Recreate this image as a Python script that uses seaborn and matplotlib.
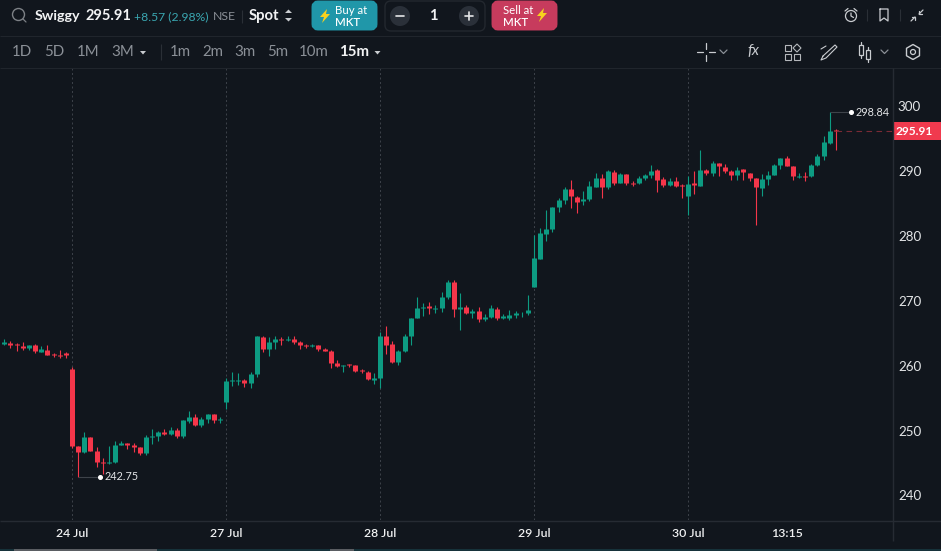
import numpy as np
import pandas as pd
import matplotlib
matplotlib.use('Agg')
import matplotlib.pyplot as plt
from matplotlib.patches import FancyBboxPatch, Circle, Rectangle, Polygon
import seaborn as sns

# ============================
# DADOS (15m, um candle por posição; 24 Jul = posição 0)
# ============================
candle_idx = list(range(-12, 125))

opens = [264.87, 263.33, 263.49, 263.28, 263.08, 262.72, 263.18, 262.10, 262.41, 261.74, 261.69, 261.95,
         259.48, 247.62, 246.69, 249.00, 246.85, 245.15, 245.00, 245.15, 247.77, 248.08, 247.77, 247.46, 246.54,
         249.00, 249.16, 249.77, 249.47, 250.08, 249.16, 251.47, 252.09, 250.85, 251.78, 252.55, 251.57,
         254.40, 257.63, 257.63, 257.78, 257.32, 258.71, 264.41, 262.56, 263.64, 264.10, 263.94, 264.10, 263.64,
         263.12, 263.02, 263.17, 262.56, 262.25, 260.40, 259.99, 260.25, 260.09, 259.27, 259.01, 257.78,
         258.09, 264.56, 263.33, 260.56, 262.25, 264.56, 267.34, 268.88, 269.18, 268.72, 268.88, 270.57, 272.88,
         268.72, 269.03, 268.11, 268.41, 267.18, 267.49, 268.72, 267.34, 267.34, 267.80, 268.06, 268.11,
         272.11, 276.43, 280.28, 281.05, 284.44, 285.52, 287.21, 285.98, 285.36, 285.67, 287.52, 288.91, 287.52,
         289.83, 288.14, 289.52, 288.14, 288.14, 288.91, 289.37, 290.13, 288.75, 287.82, 288.44, 287.82,
         286.13, 288.13, 287.67, 290.13, 289.67, 291.21, 290.60, 289.98, 289.36, 290.29, 289.67, 288.90, 287.36,
         288.75, 289.36, 290.91, 291.98, 290.75, 289.11, 289.21, 289.21, 290.91, 292.29, 294.29, 296.30]

highs = [265.08, 264.10, 263.80, 263.49, 263.64, 263.18, 263.33, 263.02, 263.18, 261.95, 262.41, 262.10,
         259.74, 247.62, 249.77, 249.00, 247.46, 245.77, 247.62, 248.39, 248.39, 248.08, 248.08, 247.46, 249.31,
         250.24, 249.93, 250.24, 250.54, 250.39, 251.62, 253.01, 252.55, 252.09, 252.55, 252.55, 252.09,
         258.09, 259.01, 258.86, 257.94, 259.01, 264.56, 264.56, 264.41, 264.56, 264.41, 264.56, 264.56, 263.79,
         263.33, 263.33, 263.17, 262.71, 262.41, 260.87, 260.09, 260.25, 260.09, 259.48, 259.17, 258.86,
         265.18, 266.10, 263.79, 262.41, 264.87, 267.34, 270.57, 269.65, 269.80, 269.34, 271.34, 273.19, 273.19,
         271.19, 269.34, 268.72, 269.03, 267.95, 269.34, 269.03, 267.95, 268.57, 268.41, 268.26, 270.88,
         280.12, 281.20, 283.98, 284.44, 285.83, 287.52, 288.60, 286.13, 286.90, 288.44, 289.68, 289.52, 290.14,
         290.14, 289.68, 289.52, 288.44, 289.21, 289.52, 290.91, 290.29, 289.06, 288.90, 289.06, 287.98,
         289.21, 289.98, 293.22, 290.29, 291.52, 291.21, 291.06, 290.13, 290.60, 290.29, 289.67, 288.90, 289.52,
         289.98, 291.06, 291.98, 292.29, 290.75, 289.67, 289.83, 291.06, 292.60, 295.37, 299.07, 296.45]

lows = [263.33, 263.18, 262.72, 262.25, 262.41, 262.41, 261.95, 262.10, 261.64, 261.33, 261.18, 261.18,
        247.26, 242.89, 246.54, 246.85, 244.38, 243.30, 244.84, 245.00, 247.77, 247.15, 246.69, 246.23, 246.23,
        247.92, 248.39, 249.31, 249.31, 248.85, 248.85, 251.16, 250.70, 250.54, 251.16, 251.16, 251.16,
        253.32, 256.86, 257.01, 256.70, 256.55, 258.24, 262.10, 261.48, 262.56, 263.17, 263.79, 263.33, 262.56,
        262.71, 262.87, 262.25, 262.25, 259.63, 259.79, 259.01, 259.79, 259.01, 258.86, 257.78, 257.17,
        256.55, 261.79, 260.40, 260.09, 262.10, 263.17, 267.34, 267.64, 267.95, 268.10, 268.26, 270.26, 267.49,
        265.49, 267.95, 267.34, 266.72, 266.87, 267.34, 267.03, 267.18, 267.03, 267.34, 267.49, 267.80,
        272.11, 276.43, 279.20, 280.59, 283.67, 284.90, 284.28, 283.51, 284.75, 285.36, 287.52, 285.83, 287.21,
        287.83, 288.14, 287.83, 287.67, 287.98, 288.60, 288.91, 286.74, 287.51, 287.67, 287.51, 285.82,
        283.20, 286.44, 287.67, 289.36, 289.21, 289.21, 289.67, 288.59, 288.59, 288.59, 288.44, 281.66, 286.13,
        287.82, 289.36, 290.29, 290.75, 288.59, 288.90, 288.44, 289.06, 290.75, 291.68, 294.14, 293.22]

closes = [263.33, 263.64, 263.18, 263.13, 262.77, 263.18, 262.25, 262.56, 261.64, 261.59, 261.54, 261.69,
          247.62, 246.69, 249.00, 246.85, 245.15, 245.00, 245.15, 247.77, 248.08, 247.77, 247.46, 246.54, 249.00,
          249.16, 249.77, 249.47, 250.08, 249.16, 251.62, 252.09, 250.85, 251.78, 252.55, 251.62, 251.73,
          257.63, 257.78, 257.78, 257.32, 258.71, 264.56, 262.56, 263.64, 264.10, 263.94, 264.10, 263.64, 263.17,
          262.97, 263.17, 262.56, 262.25, 260.40, 259.94, 260.09, 260.09, 259.17, 259.12, 257.94, 258.09,
          264.56, 263.17, 260.56, 262.25, 264.56, 267.34, 268.88, 269.03, 268.88, 268.88, 270.57, 272.88, 268.72,
          269.03, 268.11, 268.41, 267.18, 267.49, 268.88, 267.34, 267.64, 267.80, 268.11, 268.16, 268.57,
          276.58, 280.43, 281.05, 284.44, 285.52, 287.21, 286.13, 285.21, 285.67, 287.67, 288.91, 287.52, 289.99,
          288.14, 289.52, 288.14, 288.03, 288.91, 289.37, 289.99, 288.59, 287.82, 288.44, 287.67, 287.72,
          287.98, 287.82, 290.13, 289.67, 291.21, 290.75, 289.98, 289.36, 290.13, 289.83, 288.90, 287.51, 288.75,
          289.36, 290.91, 291.98, 290.75, 289.21, 289.21, 289.11, 290.91, 292.29, 294.45, 296.14, 296.14]

day_idx = [0, 25, 50, 75, 100]
x_tick_idx = [0, 25, 50, 75, 100, 116]
x_tick_labels = ['24 Jul', '27 Jul', '28 Jul', '29 Jul', '30 Jul', '13:15']
y_ticks = [240, 250, 260, 270, 280, 290, 300]

low_label = '242.75'
high_label = '298.84'
last_label = '295.91'

top_periods = ['1D', '5D', '1M', '3M']
top_periods_x = [12, 44, 77, 111]
top_frames = ['1m', '2m', '3m', '5m', '10m']
top_frames_x = [170, 202, 234, 267, 299]

# ============================
# CORES E TEMA
# ============================
BG = '#11161d'
GREEN = '#0d9b82'
RED = '#f5364a'
LINE = '#262b33'
GRAY = '#8b9097'
TXT = '#e3e5e7'

sns.set_theme(style='dark', rc={
    'figure.facecolor': BG, 'axes.facecolor': BG, 'savefig.facecolor': BG,
    'lines.solid_capstyle': 'butt', 'axes.grid': False,
})
plt.rcParams['font.family'] = ['Lato', 'DejaVu Sans']

W, H = 941, 551
fig = plt.figure(figsize=(W / 100, H / 100), dpi=100)

# eixo principal: x 0-893 px, y 68-520 px
ax = fig.add_axes([0, (H - 520) / H, 893 / W, (520 - 68) / H])
ax.set_xlim(-72 / 6.16, (893 - 72) / 6.16)
ax.set_ylim(300 - (520 - 106) / 6.49, 300 + (106 - 68) / 6.49)

# ============================
# CANDLES
# ============================
df = pd.DataFrame({'idx': candle_idx, 'open': opens, 'high': highs, 'low': lows, 'close': closes})
df['dir'] = np.where(df['close'] >= df['open'], 'up', 'down')
pal = {'up': GREEN, 'down': RED}

for v in day_idx:
    ax.axvline(v, color='#3b4048', lw=0.72, ls=(0, (2, 2.5)), zorder=0)

wicks = df.melt(id_vars=['idx', 'dir'], value_vars=['high', 'low'], value_name='price')
bodies = df.melt(id_vars=['idx', 'dir'], value_vars=['open', 'close'], value_name='price')

sns.lineplot(data=wicks, x='idx', y='price', hue='dir', units='idx', estimator=None, palette=pal,
             linewidth=0.8, legend=False, sort=False, ax=ax)
sns.lineplot(data=bodies, x='idx', y='price', hue='dir', units='idx', estimator=None, palette=pal,
             linewidth=3.6, legend=False, sort=False, ax=ax, solid_capstyle='butt')

# eixos
ax.set_xlabel('')
ax.set_ylabel('')
ax.set_xticks(x_tick_idx, x_tick_labels)
ax.set_yticks(y_ticks)
ax.yaxis.tick_right()
ax.tick_params(axis='x', length=0, pad=6, labelsize=8.8, labelcolor='#f0f1f2')
ax.tick_params(axis='y', length=0, pad=3.5, labelsize=9.6, labelcolor=TXT)
for t in ax.get_xticklabels():
    t.set_fontweight('semibold')
for s in ax.spines.values():
    s.set_visible(False)

# maximo, minimo e ultimo preco
i_hi = int(np.argmax(highs))
i_lo = int(np.argmin(lows))
hi_x, hi_y = candle_idx[i_hi], highs[i_hi]
lo_x, lo_y = candle_idx[i_lo], lows[i_lo]
ax.plot([hi_x, hi_x + 3.5], [hi_y, hi_y], color='#3e434a', lw=0.8)
ax.plot([lo_x, lo_x + 3.5], [lo_y, lo_y], color='#3e434a', lw=0.8)
ax.plot([hi_x + 3.5, lo_x + 3.5], [hi_y, lo_y], ls='none', marker='o', ms=2.6, color='white')
ax.annotate(high_label, (hi_x + 3.5, hi_y), xytext=(3.4, 0), textcoords='offset points',
            color=TXT, fontsize=7.8, va='center')
ax.annotate(low_label, (lo_x + 3.5, lo_y), xytext=(3.6, 0), textcoords='offset points',
            color=TXT, fontsize=7.8, va='center')
ax.plot([candle_idx[-1], ax.get_xlim()[1]], [closes[-1], closes[-1]], color='#7a2a35', lw=0.8, ls=(0, (5, 4)))

# ============================
# INTERFACE (camada em pixels)
# ============================
ui = fig.add_axes([0, 0, 1, 1], facecolor='none')
ui.set_xlim(0, W)
ui.set_ylim(H, 0)
ui.axis('off')


def label(x, y, s, color=TXT, size=10, weight='normal', ha='left', style='normal'):
    ui.text(x, y, s, color=color, fontsize=size, fontweight=weight, ha=ha, va='center', fontstyle=style)


def stroke(xs, ys, color='#c9ccd0', lw=0.9):
    ui.plot(xs, ys, color=color, lw=lw, solid_capstyle='round')


def button(x0, x1, color):
    ui.add_patch(FancyBboxPatch((x0 + 3, 4), x1 - x0 - 6, 23, boxstyle='round,pad=0,rounding_size=3',
                                mutation_aspect=1, fc=color, ec=color, lw=5))


def bolt(x, y):
    ui.add_patch(Polygon([(x + 2, y - 7), (x - 5, y + 1), (x - 1, y + 1), (x - 3, y + 7), (x + 5, y - 2), (x + 1, y - 2)],
                         fc='#f7d21e', ec='none'))


# linhas da estrutura
for yy in [36, 68]:
    ui.plot([0, W], [yy, yy], color='#20252c', lw=0.8)
ui.plot([0, W], [520.5, 520.5], color=LINE, lw=1)
ui.plot([893.5, 893.5], [68, 541], color=LINE, lw=1)
ui.add_patch(Rectangle((0, 549), W, 2, fc='#16323a', ec='none'))
ui.add_patch(Rectangle((14, 549), 143, 2, fc='#5a5d62', ec='none'))
ui.add_patch(Rectangle((330, 549), 24, 2, fc='#5a5d62', ec='none'))

# etiqueta do ultimo preco
ui.add_patch(Rectangle((893, 122), 48, 18, fc='#f03a4e', ec='none'))
label(895.5, 131.5, last_label, color='white', size=8.6, weight='bold')

# linha 1
ui.add_patch(Circle((18.5, 14.5), 6, fc='none', ec='#7d8186', lw=1))
stroke([23, 26], [19, 22], color='#7d8186')
label(35, 16, 'Swiggy', color='#f2f3f4', size=10.4, weight='bold')
label(86, 16, '295.91', color='#f2f3f4', size=10.5, weight='bold')
label(134, 16.5, '+8.57 (2.98%)', color='#3aa6b0', size=8.7)
label(213, 16.5, 'NSE', color=GRAY, size=8.8)
ui.plot([242.5, 242.5], [10, 23], color='#2a2f36', lw=0.8)
label(249, 16, 'Spot', color='#f2f3f4', size=10.7, weight='bold')
ui.add_patch(Polygon([(285, 13), (288.5, 9.5), (292, 13)], fc='#c9ccd0', ec='none'))
ui.add_patch(Polygon([(285, 18), (288.5, 21.5), (292, 18)], fc='#c9ccd0', ec='none'))

button(312, 377, '#2097a9')
bolt(325, 16)
label(335, 10, 'Buy at', color='white', size=8.2)
label(335, 23, 'MKT', color='white', size=8.2, weight='semibold')

ui.add_patch(FancyBboxPatch((385, 1), 100, 30, boxstyle='round,pad=0,rounding_size=6', fc='none', ec='#23282f', lw=1))
ui.add_patch(Circle((400, 16), 10, fc='#2a3039', ec='none'))
ui.add_patch(Circle((469, 16), 10, fc='#2a3039', ec='none'))
stroke([396, 404], [16, 16], color='#e6e7e9', lw=1.2)
stroke([465, 473], [16, 16], color='#e6e7e9', lw=1.2)
stroke([469, 469], [12, 20], color='#e6e7e9', lw=1.2)
label(433, 16.5, '1', color='#f2f3f4', size=10.5, weight='bold', ha='center')

button(492, 557, '#c73b5d')
bolt(542, 15)
label(503, 10, 'Sell at', color='white', size=8.2)
label(503, 23, 'MKT', color='white', size=8.2, weight='semibold')

# icones da direita, linha 1
ui.add_patch(Circle((851, 16), 5.5, fc='none', ec='#c9ccd0', lw=0.9))
stroke([851, 851, 853.5], [13, 16, 17.5])
stroke([845, 848], [11, 8.5])
stroke([857, 854], [11, 8.5])
ui.plot([867, 867], [9, 21], color='#2a2f36', lw=0.8)
stroke([880, 888, 888, 884, 880, 880], [9, 9, 21, 18, 21, 9])
ui.plot([900, 900], [9, 21], color='#2a2f36', lw=0.8)
stroke([911, 915], [21, 17])
stroke([919, 923], [14, 10])
stroke([912, 915, 915], [17, 17, 20])
stroke([919, 919, 922], [11, 14, 14])

# linha 2
for x, s in zip(top_periods_x, top_periods):
    label(x, 52.5, s, color=GRAY, size=10.8)
ui.add_patch(Polygon([(140, 51), (146, 51), (143, 54.5)], fc='#c9ccd0', ec='none'))
ui.plot([161.5, 161.5], [44, 60], color='#2a2f36', lw=0.8)
for x, s in zip(top_frames_x, top_frames):
    label(x, 52.5, s, color=GRAY, size=10.8)
label(339, 52.5, '15m', color='#f2f3f4', size=10.8, weight='bold')
ui.add_patch(Polygon([(374.5, 51), (380.5, 51), (377.5, 54.5)], fc='#c9ccd0', ec='none'))

# icones da direita, linha 2
stroke([697, 703], [52, 52])
stroke([709, 715], [52, 52])
stroke([706, 706], [43, 49])
stroke([706, 706], [55, 61])
stroke([720, 723.5, 727], [50, 53.5, 50], color=GRAY)
label(753, 51, 'fx', color='#c9ccd0', size=11, ha='center', style='italic')
for bx, by in [(785, 45), (785, 54), (794, 54)]:
    ui.add_patch(Rectangle((bx, by), 6, 6, fc='none', ec='#b5b8bc', lw=0.8))
ui.add_patch(Polygon([(797, 44), (801, 48), (797, 52), (793, 48)], fc='none', ec='#b5b8bc', lw=0.8))
stroke([823, 835, 837, 826, 821, 823], [56, 45, 47, 58, 60, 56], lw=0.8)
stroke([821, 826], [49, 46], lw=0.8)
ui.add_patch(Rectangle((859, 45), 4, 10, fc='none', ec='#c9ccd0', lw=0.9))
ui.add_patch(Rectangle((866, 50), 4, 9, fc='none', ec='#c9ccd0', lw=0.9))
stroke([861, 861], [42, 45])
stroke([861, 861], [55, 58])
stroke([868, 868], [47, 50])
stroke([868, 868], [59, 62])
stroke([881, 884.5, 888], [50, 53.5, 50], color=GRAY)
gear_t = np.linspace(0, 2 * np.pi, 7)
ui.plot(913 + 7.5 * np.sin(gear_t), 52 + 7.5 * np.cos(gear_t), color='#c9ccd0', lw=1)
ui.add_patch(Circle((913, 52), 2.5, fc='none', ec='#c9ccd0', lw=0.9))

fig.savefig('out.png', dpi=100)
